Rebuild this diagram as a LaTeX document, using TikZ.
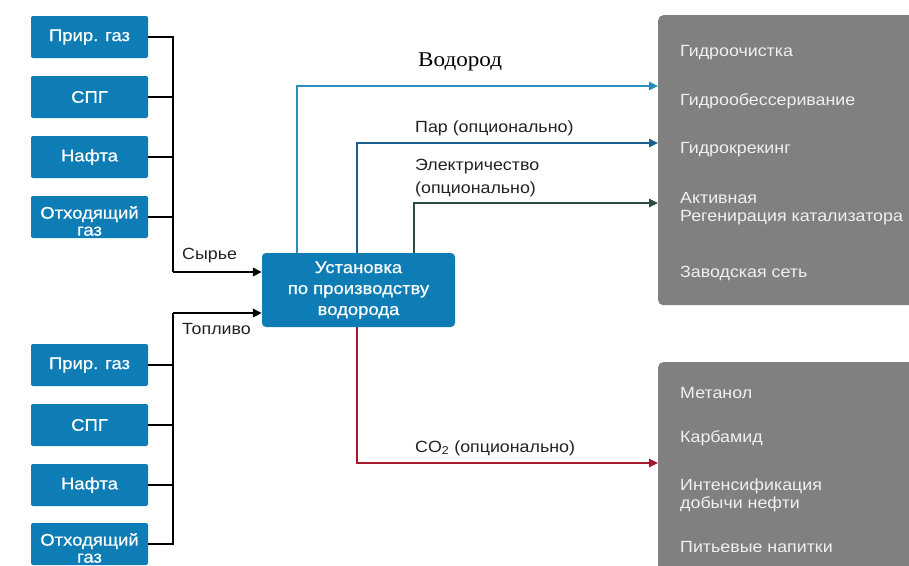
\documentclass[tikz,border=0pt]{standalone}
\usepackage{fontspec}
\setmainfont{Liberation Sans}[FakeStretch=1.1]
\newfontfamily\boxfont{Liberation Sans}[FakeStretch=1.1,FakeBold=0.6]
\newfontfamily\serifru{Liberation Serif}[FakeStretch=1.1]
\usetikzlibrary{arrows.meta}
\definecolor{boxblue}{HTML}{0E7DB6}
\definecolor{hcol}{HTML}{2B8CC0}
\definecolor{pcol}{HTML}{1C5E8E}
\definecolor{ecol}{HTML}{2A4D40}
\definecolor{ccol}{HTML}{A3192E}
\definecolor{greybox}{HTML}{808080}
\definecolor{greytext}{HTML}{F0F0F0}
\definecolor{labtext}{HTML}{222222}
\tikzset{
  srcbox/.style={fill=boxblue, rounded corners=2pt, minimum width=117pt, minimum height=42pt, inner sep=0pt},
  srctext/.style={text=white, inner sep=0pt, align=center, font=\boxfont\fontsize{16.8}{17}\selectfont},
  plantbox/.style={fill=boxblue, text=white, rounded corners=4pt, minimum width=193pt, minimum height=74pt, inner sep=0pt, align=center, font=\boxfont\fontsize{16.8}{21}\selectfont},
  greypanel/.style={fill=greybox, rounded corners=5pt, minimum width=280pt, anchor=north west, inner sep=0pt},
  item/.style={anchor=west, text=greytext, inner sep=0pt, align=left, font=\fontsize{16.2}{18}\selectfont},
  lab/.style={anchor=west, text=labtext, inner sep=0pt, align=left, font=\fontsize{16.2}{23}\selectfont},
  feed/.style={line width=1.7pt, black},
  tip/.style={-{Triangle[length=9pt,width=8.5pt]}},
  outl/.style={line width=1.7pt, tip},
}
\begin{document}
\begin{tikzpicture}[x=1pt,y=-1pt]
\useasboundingbox[fill=white] (0,0) rectangle (909,565);
% sources
\node[srcbox] (t1) at (89.5,37) {};
\node[srcbox] (t2) at (89.5,97) {};
\node[srcbox] (t3) at (89.5,157) {};
\node[srcbox] (t4) at (89.5,217) {};
\node[srcbox] (b1) at (89.5,365) {};
\node[srcbox] (b2) at (89.5,425) {};
\node[srcbox] (b3) at (89.5,485) {};
\node[srcbox] (b4) at (89.5,544) {};
\node[srctext] (t1l) at (t1) {Прир. газ};
\node[srctext] (t2l) at (t2) {СПГ};
\node[srctext] (t3l) at (t3) {Нафта};
\node[srctext] (t4l) at ([yshift=-4pt]t4.center) {Отходящий\\газ};
\node[srctext] (b1l) at (b1) {Прир. газ};
\node[srctext] (b2l) at (b2) {СПГ};
\node[srctext] (b3l) at (b3) {Нафта};
\node[srctext] (b4l) at ([yshift=-4pt]b4.center) {Отходящий\\газ};
% plant
\node[plantbox] (plant) at (358.5,290) {Установка\\по производству\\водорода};
% panels
\node[greypanel, minimum height=290pt] (g1) at (658,15) {};
\node[greypanel, minimum height=230pt] (g2) at (658,362) {};
\node[item] (i1) at (680,53) {Гидроочистка};
\node[item] (i2) at (680,101) {Гидрообессеривание};
\node[item] (i3) at (680,150) {Гидрокрекинг};
\node[item] (i4) at (680,208.5) {Активная\\Регенирация катализатора};
\node[item] (i5) at (680,273) {Заводская сеть};
\node[item] (j1) at (680,393) {Метанол};
\node[item] (j2) at (680,438) {Карбамид};
\node[item] (j3) at (680,495) {Интенсификация\\добычи нефти};
\node[item] (j4) at (680,547) {Питьевые напитки};
% feed buses
\coordinate (sj) at (173,272);
\coordinate (fj) at (173,313);
\foreach \n in {t1,t2,t3,t4} \draw[feed] (\n.east) -| (sj);
\foreach \n in {b1,b2,b3,b4} \draw[feed] (\n.east) -| (fj);
\draw[feed,tip] (sj) -- (sj -| plant.west);
\draw[feed,tip] (fj) -- (fj -| plant.west);
\node[lab] (lsyr) at (182,256) {Сырье};
\node[lab] (ltop) at (182,329) {Топливо};
% outputs
\coordinate (hx) at (297,86);
\coordinate (px) at (357,143);
\coordinate (ex) at (414,203);
\coordinate (cx) at (357,463);
\draw[hcol, outl] (plant.north -| hx) |- (hx -| g1.west);
\draw[pcol, outl] (plant.north -| px) |- (px -| g1.west);
\draw[ecol, outl] (plant.north -| ex) |- (ex -| g1.west);
\draw[ccol, outl] (plant.south -| cx) |- (cx -| g2.west);
\node[anchor=west, inner sep=0pt, font=\serifru\fontsize{21}{22}\selectfont] (lh) at (418,62) {Водород};
\node[lab] (lp) at (415,128) {Пар (опционально)};
\node[lab] (le) at (415,178.5) {Электричество\\(опционально)};
\node[lab] (lc) at (415,448) {CO\textsubscript{2} (опционально)};
\end{tikzpicture}
\end{document}
